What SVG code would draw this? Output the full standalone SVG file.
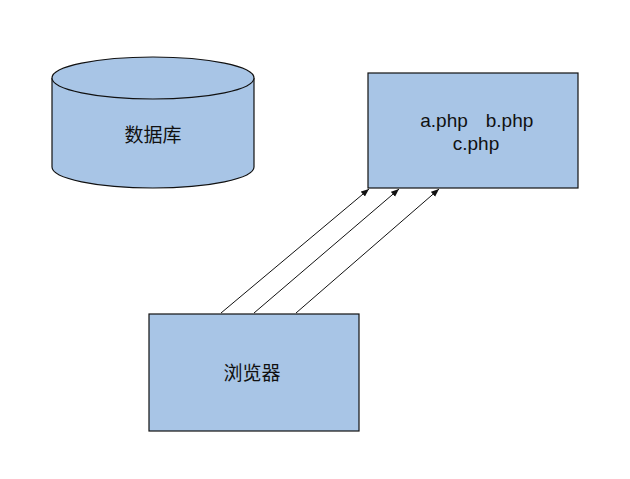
<svg xmlns="http://www.w3.org/2000/svg" width="630" height="479" viewBox="0 0 630 479">
<style>
.shape{fill:#a8c5e6;stroke:#111;stroke-width:1.2}
.cjk{font-family:"Liberation Sans","Noto Sans CJK SC",sans-serif;font-size:19px;fill:#111;text-anchor:middle;dominant-baseline:central}
.lat{font-family:"Liberation Sans",Arial,sans-serif;font-size:19px;fill:#111;text-anchor:middle}
.conn{stroke:#111;stroke-width:1;fill:none;marker-end:url(#arr)}
</style>
<defs>
<marker id="arr" viewBox="0 0 10 10" refX="10" refY="5" markerWidth="8" markerHeight="8" markerUnits="userSpaceOnUse" orient="auto">
<path d="M0,1 L10,5 L0,9 z" fill="#111"/>
</marker>
</defs>
<rect width="630" height="479" fill="#fff"/>
<g id="db">
<path class="shape" d="M52,78 L52,167 A101,21 0 0 0 254,167 L254,78"/>
<ellipse class="shape" cx="153" cy="78" rx="101" ry="21"/>
<text class="cjk" x="153" y="135">数据库</text>
</g>
<g id="php">
<rect class="shape" x="368" y="73" width="210" height="115"/>
<text class="lat" x="444" y="127">a.php</text>
<text class="lat" x="509.5" y="127">b.php</text>
<text class="lat" x="476" y="150">c.php</text>
</g>
<g id="browser">
<rect class="shape" x="149" y="314" width="210" height="117"/>
<text class="cjk" x="252" y="373">浏览器</text>
</g>
<g id="connectors">
<line class="conn" x1="221" y1="313" x2="369" y2="189"/>
<line class="conn" x1="254" y1="313" x2="399" y2="189"/>
<line class="conn" x1="296" y1="313" x2="439" y2="189"/>
</g>
</svg>
